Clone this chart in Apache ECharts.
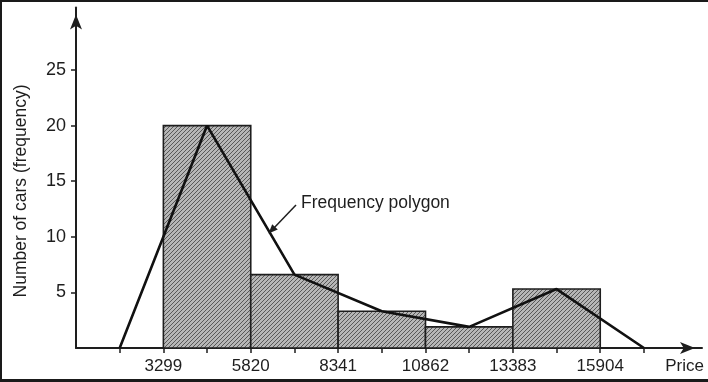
<!DOCTYPE html>
<html><head><meta charset="utf-8">
<script src="https://cdn.jsdelivr.net/npm/echarts@6/dist/echarts.min.js"></script>
<style>html,body{margin:0;padding:0;background:#fff}#c{width:708px;height:382px}</style>
</head><body><div id="c"></div>
<script>
// ---- data ----
const binEdges = [3299, 5820, 8341, 10862, 13383, 15904];
const binFreq = [20, 6.6, 3.3, 1.9, 5.3];
const polygonX = [2038.5, 4559.5, 7080.5, 9601.5, 12122.5, 14643.5, 17164.5];
const polygonY = [0, 20, 6.6, 3.3, 1.9, 5.3, 0];
const xTicks = [2038.5, 3299, 4559.5, 5820, 7080.5, 8341, 9601.5, 10862, 12122.5, 13383, 14643.5, 15904, 17164.5];
const xTickLabels = [3299, 5820, 8341, 10862, 13383, 15904];
const yTickLabels = [5, 10, 15, 20, 25];
const xTitle = 'Price';
const yTitle = 'Number of cars (frequency)';
const annotationText = 'Frequency polygon';
const xMin = 778, xMax = 18840, yMin = 0, yMax = 30.62;

// ---- styling helpers ----
const INK = '#1e1e1e';
const FONT = 'Liberation Sans, Arial, sans-serif';
function hatch() {
  const c = document.createElement('canvas');
  c.width = c.height = 4;
  const g = c.getContext('2d');
  g.fillStyle = '#b6b6b6'; g.fillRect(0, 0, 4, 4);
  g.strokeStyle = '#585858'; g.lineWidth = 1;
  g.beginPath();
  g.moveTo(0, 4); g.lineTo(4, 0);
  g.moveTo(-1, 1); g.lineTo(1, -1);
  g.moveTo(3, 5); g.lineTo(5, 3);
  g.stroke();
  return c;
}
const pattern = { image: hatch(), repeat: 'repeat' };

const barData = binFreq.map((f, i) => [binEdges[i], binEdges[i + 1], f]);
const lineData = polygonX.map((x, i) => [x, polygonY[i]]);

const chart = echarts.init(document.getElementById('c'), null, { renderer: 'canvas' });
chart.setOption({
  animation: false,
  backgroundColor: '#fff',
  grid: { left: 76, right: 6, top: 7.5, bottom: 34, containLabel: false, outerBoundsMode: 'none' },
  xAxis: {
    type: 'value', min: xMin, max: xMax,
    splitLine: { show: false },
    axisLine: { show: true, onZero: false, symbol: ['none', 'arrow'], symbolSize: [9, 15], symbolOffset: [0, -7],
      lineStyle: { color: INK, width: 2 } },
    axisTick: { show: true, customValues: xTicks, length: 5, inside: false, lineStyle: { color: INK, width: 1.5 } },
    axisLabel: { show: true, customValues: xTickLabels, margin: 10, color: INK, fontSize: 17, fontFamily: FONT,
      formatter: v => String(Math.round(v)) }
  },
  yAxis: {
    type: 'value', min: yMin, max: yMax,
    splitLine: { show: false },
    axisLine: { show: true, onZero: false, symbol: ['none', 'arrow'], symbolSize: [9, 15], symbolOffset: [0, -7],
      lineStyle: { color: INK, width: 2 } },
    axisTick: { show: true, customValues: yTickLabels, length: 5, inside: false, lineStyle: { color: INK, width: 1.5 } },
    axisLabel: { show: true, customValues: yTickLabels, margin: 10, color: INK, fontSize: 18, fontFamily: FONT,
      formatter: v => String(Math.round(v)) }
  },
  series: [
    {
      type: 'custom',
      data: barData,
      encode: { x: [0, 1], y: 2 },
      z: 2,
      renderItem: function (params, api) {
        const p0 = api.coord([api.value(0), 0]);
        const p1 = api.coord([api.value(1), api.value(2)]);
        return {
          type: 'rect',
          shape: { x: p0[0], y: p1[1], width: p1[0] - p0[0], height: p0[1] - p1[1] },
          style: { fill: pattern, stroke: INK, lineWidth: 1.6 }
        };
      }
    },
    {
      type: 'line',
      data: lineData,
      symbol: 'none',
      z: 3,
      lineStyle: { color: '#111', width: 2.6 }
    }
  ],
  graphic: [
    { type: 'rect', shape: { x: 0, y: 0, width: 708, height: 2 }, style: { fill: '#1a1a1a' }, z: 100 },
    { type: 'rect', shape: { x: 0, y: 0, width: 2, height: 382 }, style: { fill: '#1a1a1a' }, z: 100 },
    { type: 'rect', shape: { x: 0, y: 379, width: 708, height: 3 }, style: { fill: '#1a1a1a' }, z: 100 },
    { type: 'text', x: 21, y: 191, rotation: Math.PI / 2, z: 100,
      style: { text: yTitle, fill: INK, font: '17.5px ' + FONT, align: 'center', verticalAlign: 'middle', textAlign: 'center', textVerticalAlign: 'middle' } },
    { type: 'text', x: 704, y: 366, z: 100,
      style: { text: xTitle, fill: INK, font: '17px ' + FONT, align: 'right', verticalAlign: 'middle', textAlign: 'right', textVerticalAlign: 'middle' } },
    { type: 'text', x: 301, y: 203, z: 100,
      style: { text: annotationText, fill: INK, font: '17.5px ' + FONT, align: 'left', verticalAlign: 'middle', textAlign: 'left', textVerticalAlign: 'middle' } },
    { type: 'line', z: 100, shape: { x1: 296, y1: 205, x2: 273, y2: 229 }, style: { stroke: INK, lineWidth: 1.5 } },
    { type: 'polygon', z: 100, shape: { points: [[268.5, 233.5], [272.2, 224.2], [277.8, 229.6]] }, style: { fill: INK } }
  ]
});
</script>
</body></html>
